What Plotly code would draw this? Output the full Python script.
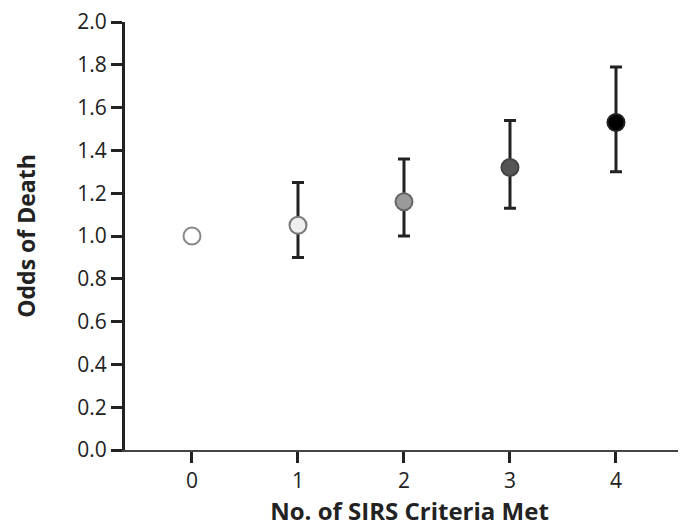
import plotly.graph_objects as go

criteria = [0, 1, 2, 3, 4]
odds = [1.00, 1.05, 1.16, 1.32, 1.53]
ci_low = [None, 0.90, 1.00, 1.13, 1.30]
ci_high = [None, 1.25, 1.36, 1.54, 1.79]
fills = ["#ffffff", "#eeeeee", "#9a9a9a", "#555555", "#000000"]
outlines = ["#888888", "#777777", "#666666", "#444444", "#222222"]
y_ticks = [0.0, 0.2, 0.4, 0.6, 0.8, 1.0, 1.2, 1.4, 1.6, 1.8, 2.0]

font_family = "Open Sans, Lato, sans-serif"

err_plus = [0 if h is None else h - o for h, o in zip(ci_high, odds)]
err_minus = [0 if l is None else o - l for l, o in zip(ci_low, odds)]

fig = go.Figure()
fig.add_trace(go.Scatter(
    x=criteria[1:], y=odds[1:], mode="markers",
    marker=dict(size=1, color="rgba(0,0,0,0)"),
    error_y=dict(type="data", symmetric=False, array=err_plus[1:], arrayminus=err_minus[1:],
                 color="#222222", thickness=3, width=6),
    showlegend=False, hoverinfo="skip"))
fig.add_trace(go.Scatter(
    x=criteria, y=odds, mode="markers",
    marker=dict(size=17, color=fills, line=dict(color=outlines, width=2)),
    showlegend=False))

fig.update_layout(
    width=686, height=530,
    paper_bgcolor="white", plot_bgcolor="white",
    margin=dict(l=117, r=0, t=14, b=88),
    font=dict(family=font_family, size=21, color="#222222"),
    xaxis=dict(range=[-0.632, 4.736], tickvals=criteria, ticktext=[str(c) for c in criteria],
               showgrid=False, zeroline=False, showline=True, linecolor="#444444", linewidth=2,
               ticks="outside", ticklen=11, tickwidth=3, tickcolor="#222222", automargin=False,
               ticklabeloverflow="allow",
               title=dict(text="<b>No. of SIRS Criteria Met</b>", font=dict(size=24), standoff=10)),
    yaxis=dict(range=[0, 2.0], tickvals=y_ticks, ticktext=[f"{v:.1f}" for v in y_ticks],
               showgrid=False, zeroline=False, showline=True, linecolor="#222222", linewidth=3,
               ticks="outside", ticklen=11, tickwidth=3, tickcolor="#222222", automargin=False,
               ticklabeloverflow="allow",
               title=dict(text="<b>Odds of Death</b>", font=dict(size=23), standoff=36)),
)

fig.write_html("out.html")
